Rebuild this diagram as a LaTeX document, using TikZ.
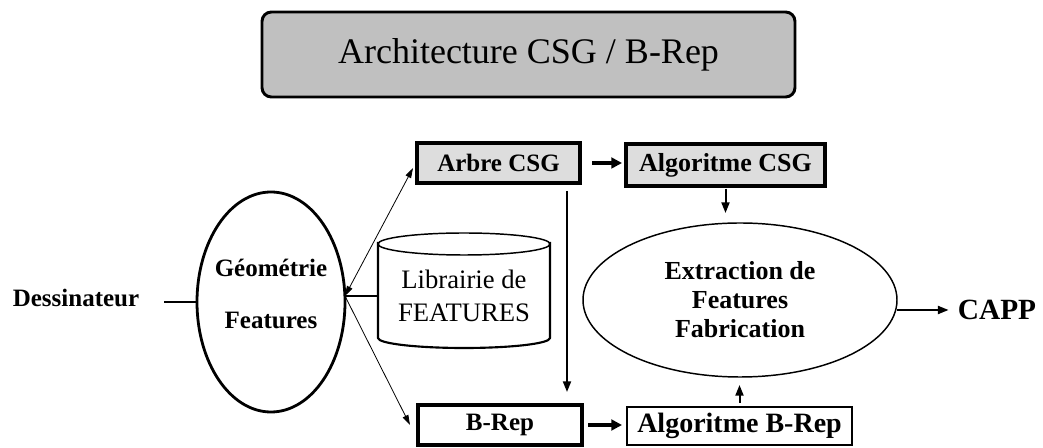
\documentclass[tikz,border=0pt]{standalone}
\usepackage{fontspec}
\setmainfont{Liberation Serif}
\usetikzlibrary{shapes.geometric,arrows.meta}
\definecolor{titlegray}{RGB}{192,192,192}
\definecolor{boxgray}{RGB}{221,221,221}
\begin{document}
\begin{tikzpicture}[x=0.75pt,y=-0.75pt,
  every node/.style={inner sep=0pt,outer sep=0pt},
  lbl/.style={font=\bfseries\fontsize{18.75}{22}\selectfont,align=center},
  titlebox/.style={draw,line width=2.2pt,fill=titlegray,rounded corners=7pt,
    minimum width=399.75pt,minimum height=63.75pt,font=\fontsize{27}{32}\selectfont},
  csgbox/.style={lbl,draw,line width=3pt,fill=boxgray},
  brepbox/.style={lbl,draw,line width=3pt,fill=white},
  algbox/.style={lbl,draw,line width=1.9pt,fill=white},
  thickarrow/.style={line width=3pt,-{Triangle[length=8pt,width=8pt]}},
  medarrow/.style={line width=1.5pt,-{Triangle[length=8pt,width=6pt]}},
  thinline/.style={line width=0.6pt},
  thintip/.tip={Triangle[length=7.5pt,width=4.5pt]},
  plainline/.style={line width=1.5pt}]
\useasboundingbox (0,0) rectangle (1043,448);

% title banner
\node[titlebox] (title) at (528.5,54.5) {Architecture CSG / B-Rep};

% modelling entities
\node[lbl] (dess) at (76,298) {Dessinateur};
\node[ellipse,draw,line width=2.1pt,minimum width=111pt,minimum height=165pt] (geo) at (271,302) {};
\node[lbl] (geotxt) at (271,293.5) {Géométrie\\[17pt]Features};

% feature library (cylinder)
\draw[line width=1.1pt] (464,244) ellipse [x radius=64.5pt,y radius=8.25pt];
\draw[line width=1.6pt] (378,242) -- (378,338)
  arc[start angle=180,end angle=360,x radius=64.5pt,y radius=7.5pt] -- (550,242);
\node[font=\fontsize{20}{25}\selectfont,align=center,minimum width=129pt] (lib) at (464,296)
  {Librairie de\\FEATURES};

% representations and algorithms
\node[csgbox,minimum width=122.25pt,minimum height=30pt] (arbre) at (498.5,163) {Arbre CSG};
\node[csgbox,minimum width=149.25pt,minimum height=31.5pt,
  font=\bfseries\fontsize{19.5}{22}\selectfont] (algcsg) at (725.5,165) {Algoritme CSG};
\node[brepbox,minimum width=123pt,minimum height=30pt] (brep) at (500,425) {B-Rep};
\node[algbox,minimum width=168.75pt,minimum height=28.5pt,
  font=\bfseries\fontsize{21}{24}\selectfont] (algbrep) at (739.5,426) {Algoritme B-Rep};

\node[ellipse,draw,line width=1.1pt,minimum width=235.5pt,minimum height=115.5pt,
  font=\bfseries\fontsize{19.5}{21.75}\selectfont,align=center] (extr) at (740,300)
  {Extraction de\\Features\\Fabrication};
\node[lbl,font=\bfseries\fontsize{22}{24}\selectfont] (capp) at (997,310) {CAPP};

% connectors
\coordinate (hub) at (geo.east |- lib.west);
\draw[plainline] ([xshift=18.75pt]dess.east |- geo.west) -- (geo.west);
\draw[plainline] (lib.west) -- (hub);
\draw[thinline,thintip-thintip] ([shift={(-4,5)}]arbre.west) -- (hub);
\draw[thinline,-thintip] (hub) -- ([xshift=-6pt]brep.west);
\draw[thickarrow] ([xshift=9pt]arbre.east) -- ([xshift=-3pt]algcsg.west |- arbre.east);
\draw[thickarrow] ([xshift=4.5pt]brep.east) -- ([xshift=-3.75pt]algbrep.west |- brep.east);
\draw[medarrow] ([shift={(-13,8)}]arbre.south east) -- ([shift={(-15,-13)}]brep.north east);
\draw[medarrow,shorten <=2pt,shorten >=7.5pt] (algcsg.south) -- (algcsg.south |- extr.north);
\draw[medarrow,shorten <=3pt,shorten >=6pt] (algbrep.north) -- (algbrep.north |- extr.south);
\draw[medarrow] (extr.east |- capp.west) -- ([xshift=-7pt]capp.west);
\end{tikzpicture}
\end{document}
